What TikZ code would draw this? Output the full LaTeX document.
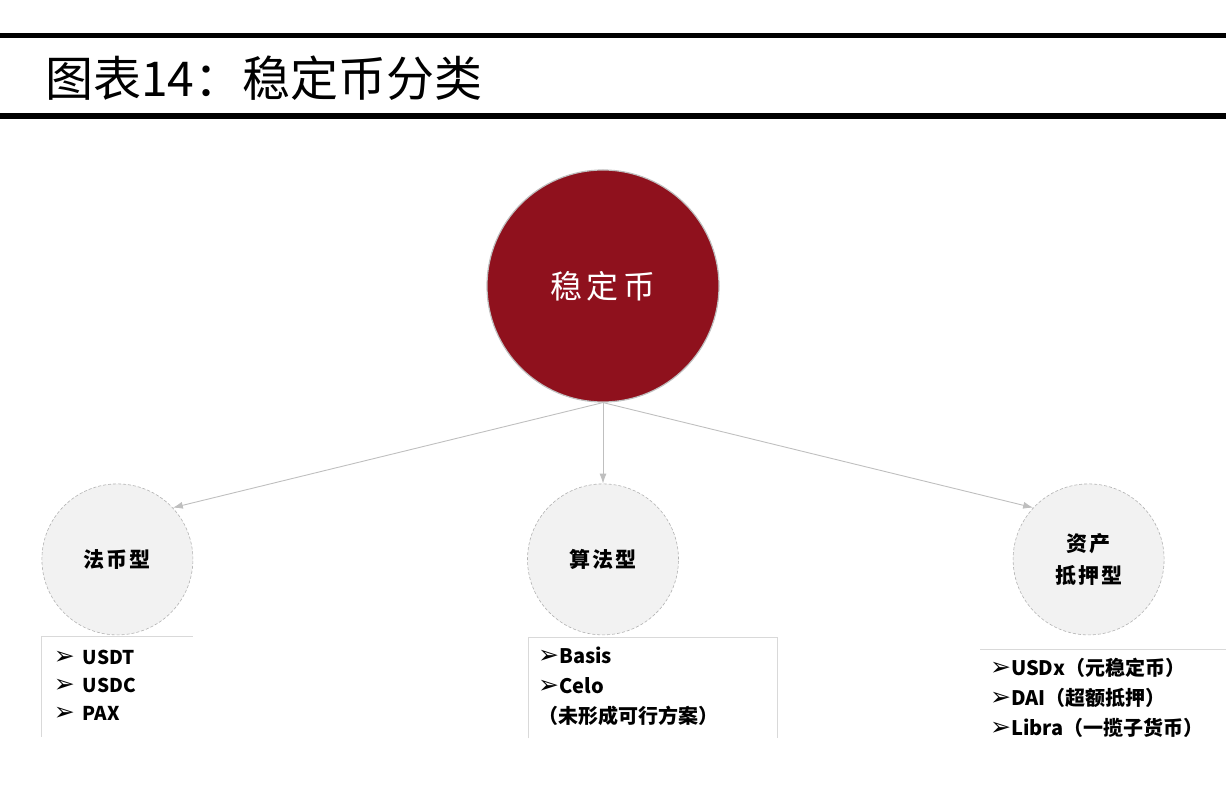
\documentclass[tikz,border=0pt]{standalone}
\usepackage{fontspec}
\setmainfont{Noto Sans CJK SC}
\newfontfamily\symb{DejaVu Sans}
\usepackage{xcolor}
\usetikzlibrary{shapes,arrows,arrows.meta,positioning}
\newcommand{\pointer}{{\symb\fontsize{25}{25}\selectfont ➢}}
\definecolor{darkred}{RGB}{143, 17, 29}
\definecolor{lightfill}{RGB}{242, 242, 242}
\definecolor{linegray}{RGB}{191, 191, 191}
\definecolor{boxgray}{RGB}{217, 217, 217}
\tikzstyle{main} = [circle, draw=linegray, line width=1.2pt, fill=darkred, text=white, text centered, font=\fontsize{32}{36}\selectfont, minimum size = 232pt, inner sep=0pt]
\tikzstyle{sub} = [circle, draw=gray!60, densely dashed, line width=0.6pt, fill=lightfill, text=black, align=center, font=\bfseries\fontsize{21}{32}\selectfont, minimum size = 151pt, inner sep=0pt]
\tikzstyle{textonly} = [draw=none, fill=none, inner sep=0pt]
\tikzstyle{listbox} = [draw=none, fill=none, minimum height=100pt, inner sep=0pt]
\tikzstyle{listtext} = [draw=none, align=left, anchor=north west, inner sep=0pt, font=\bfseries\fontsize{19}{28}\selectfont]
\tikzstyle{boxline} = [draw=boxgray, line width=1pt]
\tikzstyle{bar} = [draw=black, line width=5.5pt]
\tikzstyle{tedge}  = [draw=linegray, line width=0.9pt, >={Latex[length=10pt,width=7pt]}, ->]

\begin{document}
\begin{tikzpicture}[x=1pt, y=1pt]
\useasboundingbox (0,0) rectangle (1226,790);

% title =============================
\draw[bar] (0,754.5) -- (1226,754.5);
\draw[bar] (0,674) -- (1226,674);
\node[textonly, anchor=west, font=\fontsize{48}{52}\selectfont] (title) at (45,712) {图表14：稳定币分类};

% circles =============================
\node[main] (coin) at (603,504) {稳\hspace{5pt}定\hspace{5pt}币};
\node[sub, below=81pt of coin] (algo) {算\hspace{2pt}法\hspace{2pt}型};
\node[sub, left=334pt of algo] (fiat) {法\hspace{2pt}币\hspace{2pt}型};
\node[sub, right=334pt of algo] (asset) {资\hspace{2pt}产\\抵\hspace{2pt}押\hspace{2pt}型};

% lists
\node[listbox, minimum width=151pt, below=1pt of fiat] (fiatbox) {};
\node[listbox, minimum width=249pt, anchor=north west] (algobox) at (528,152) {};
\node[listbox, minimum width=246pt, minimum height=88pt, anchor=north west] (assetbox) at (980,140) {};

\draw[boxline] (fiatbox.south west) -- (fiatbox.north west) -- (fiatbox.north east);
\draw[boxline] (algobox.south west) -- (algobox.north west) -- (algobox.north east) -- (algobox.south east);
\draw[boxline] (assetbox.north west) -- (assetbox.north east);

\node[listtext, below right=14pt and 12pt of fiatbox.north west] (fiatlist)
  {\pointer\hspace{8pt}USDT\\ \pointer\hspace{8pt}USDC\\ \pointer\hspace{8pt}PAX};
\node[listtext, below right=9pt and 10pt of algobox.north west, font=\bfseries\fontsize{20}{30}\selectfont] (algolist)
  {\pointer Basis\\ \pointer Celo\\ （未形成可行方案）};
\node[listtext, below right=8pt and 10pt of assetbox.north west, font=\bfseries\fontsize{20}{30}\selectfont] (assetlist)
  {\pointer USDx（元稳定币）\\ \pointer DAI（超额抵押）\\ \pointer Libra（一揽子货币）};

% edges main to types
\path (coin.south) edge[tedge] (fiat.43);
\path (coin.south) edge[tedge] (algo.north);
\path (coin.south) edge[tedge] (asset.137);

\end{tikzpicture}
\end{document}
